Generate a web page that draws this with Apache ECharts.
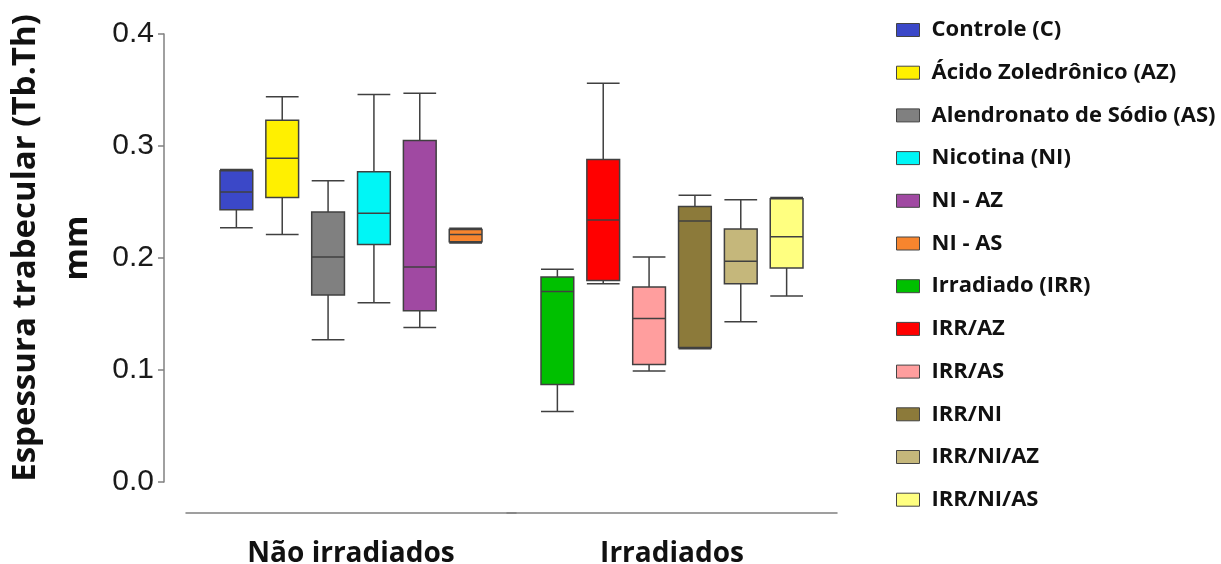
<!DOCTYPE html>
<html>
<head>
    <meta charset="utf-8">
    <script src="https://cdn.jsdelivr.net/npm/echarts@6.0.0/dist/echarts.min.js"></script>
</head>
<body style="margin:0">
    <div id="main" style="width: 1221px;height:564px;"></div>
    <script type="text/javascript">

// groups on the x axis
var groups = ['Não irradiados', 'Irradiados'];

// box data: [min, Q1, median, Q3, max]
var naoNames = ['Controle (C)', 'Ácido Zoledrônico (AZ)', 'Alendronato de Sódio (AS)', 'Nicotina (NI)', 'NI - AZ', 'NI - AS'];
var naoBoxes = [
    [0.227, 0.243, 0.259, 0.278, 0.279],
    [0.221, 0.254, 0.289, 0.323, 0.344],
    [0.127, 0.167, 0.201, 0.241, 0.269],
    [0.160, 0.212, 0.240, 0.277, 0.346],
    [0.138, 0.153, 0.192, 0.305, 0.347],
    [0.2135, 0.2145, 0.221, 0.2255, 0.2265]
];

var irrNames = ['Irradiado (IRR)', 'IRR/AZ', 'IRR/AS', 'IRR/NI', 'IRR/NI/AZ', 'IRR/NI/AS'];
var irrBoxes = [
    [0.063, 0.087, 0.170, 0.183, 0.190],
    [0.177, 0.180, 0.234, 0.288, 0.356],
    [0.099, 0.105, 0.146, 0.174, 0.201],
    [0.119, 0.120, 0.233, 0.246, 0.256],
    [0.143, 0.177, 0.197, 0.226, 0.252],
    [0.166, 0.191, 0.219, 0.253, 0.254]
];

var yTicks = [0, 0.1, 0.2, 0.3, 0.4];

var naoColors = ['#3b48c8', '#fff000', '#808080', '#00f6f6', '#a049a2', '#f7852e'];
var irrColors = ['#00c000', '#ff0000', '#ff9e9e', '#8c7a3a', '#c5b77b', '#ffff80'];

var axisGray = '#808080';

function makeX(gridIndex, name) {
    return {
        type: 'category',
        gridIndex: gridIndex,
        data: [name],
        offset: 31,
        axisLine: {onZero: false, lineStyle: {color: axisGray, width: 1.5}},
        axisTick: {alignWithLabel: true, length: 5, lineStyle: {color: axisGray, width: 1.5}},
        axisLabel: {
            margin: 27,
            color: '#111',
            fontFamily: 'Open Sans',
            fontWeight: 'bold',
            fontSize: 28
        },
        splitLine: {show: false}
    };
}

function makeSeries(names, boxes, colors, idx) {
    return names.map(function (n, i) {
        return {
            name: n,
            type: 'boxplot',
            xAxisIndex: idx,
            yAxisIndex: idx,
            itemStyle: {color: colors[i], borderColor: '#404040', borderWidth: 1.5},
            data: [boxes[i]]
        };
    });
}

function legendItems(names, colors) {
    return names.map(function (n, i) {
        return {name: n, itemStyle: {color: colors[i]}};
    });
}

var option = {
    animation: false,
    grid: [
        {left: 186, width: 330, top: 34, bottom: 82, outerBoundsMode: 'none'},
        {left: 507, width: 330, top: 34, bottom: 82, outerBoundsMode: 'none'}
    ],
    xAxis: [makeX(0, groups[0]), makeX(1, groups[1])],
    yAxis: [{
        type: 'value',
        gridIndex: 0,
        min: yTicks[0],
        max: yTicks[yTicks.length - 1],
        interval: 0.1,
        offset: 22,
        name: 'Espessura trabecular (Tb.Th)\nmm',
        nameLocation: 'middle',
        nameRotate: 90,
        nameGap: 60,
        nameTextStyle: {
            fontFamily: 'Open Sans',
            fontWeight: 'bold',
            fontSize: 33,
            lineHeight: 52,
            color: '#111',
            padding: [0, 0, 0, 20]
        },
        axisLine: {show: true, lineStyle: {color: axisGray, width: 1.5}},
        axisTick: {show: true, length: 6, lineStyle: {color: axisGray, width: 1.5}},
        axisLabel: {
            margin: 10,
            color: '#1a1a1a',
            fontFamily: 'Liberation Sans',
            fontSize: 30,
            formatter: function (v) { return v.toFixed(1); }
        },
        splitLine: {show: false}
    }, {
        type: 'value',
        gridIndex: 1,
        min: yTicks[0],
        max: yTicks[yTicks.length - 1],
        interval: 0.1,
        show: false,
        splitLine: {show: false}
    }],
    legend: {
        orient: 'vertical',
        left: 891,
        top: 13,
        itemWidth: 23,
        itemHeight: 13,
        itemGap: 18.7,
        icon: 'rect',
        itemStyle: {borderColor: '#444', borderWidth: 1},
        textStyle: {
            fontFamily: 'Open Sans',
            fontWeight: 'bold',
            fontSize: 22,
            lineHeight: 24,
            color: '#111',
            padding: [0, 0, 0, 7]
        },
        data: legendItems(naoNames, naoColors).concat(legendItems(irrNames, irrColors))
    },
    series: makeSeries(naoNames, naoBoxes, naoColors, 0).concat(makeSeries(irrNames, irrBoxes, irrColors, 1))
};

var myChart = echarts.init(document.getElementById('main'));
myChart.setOption(option);

    </script>
</body>
</html>
